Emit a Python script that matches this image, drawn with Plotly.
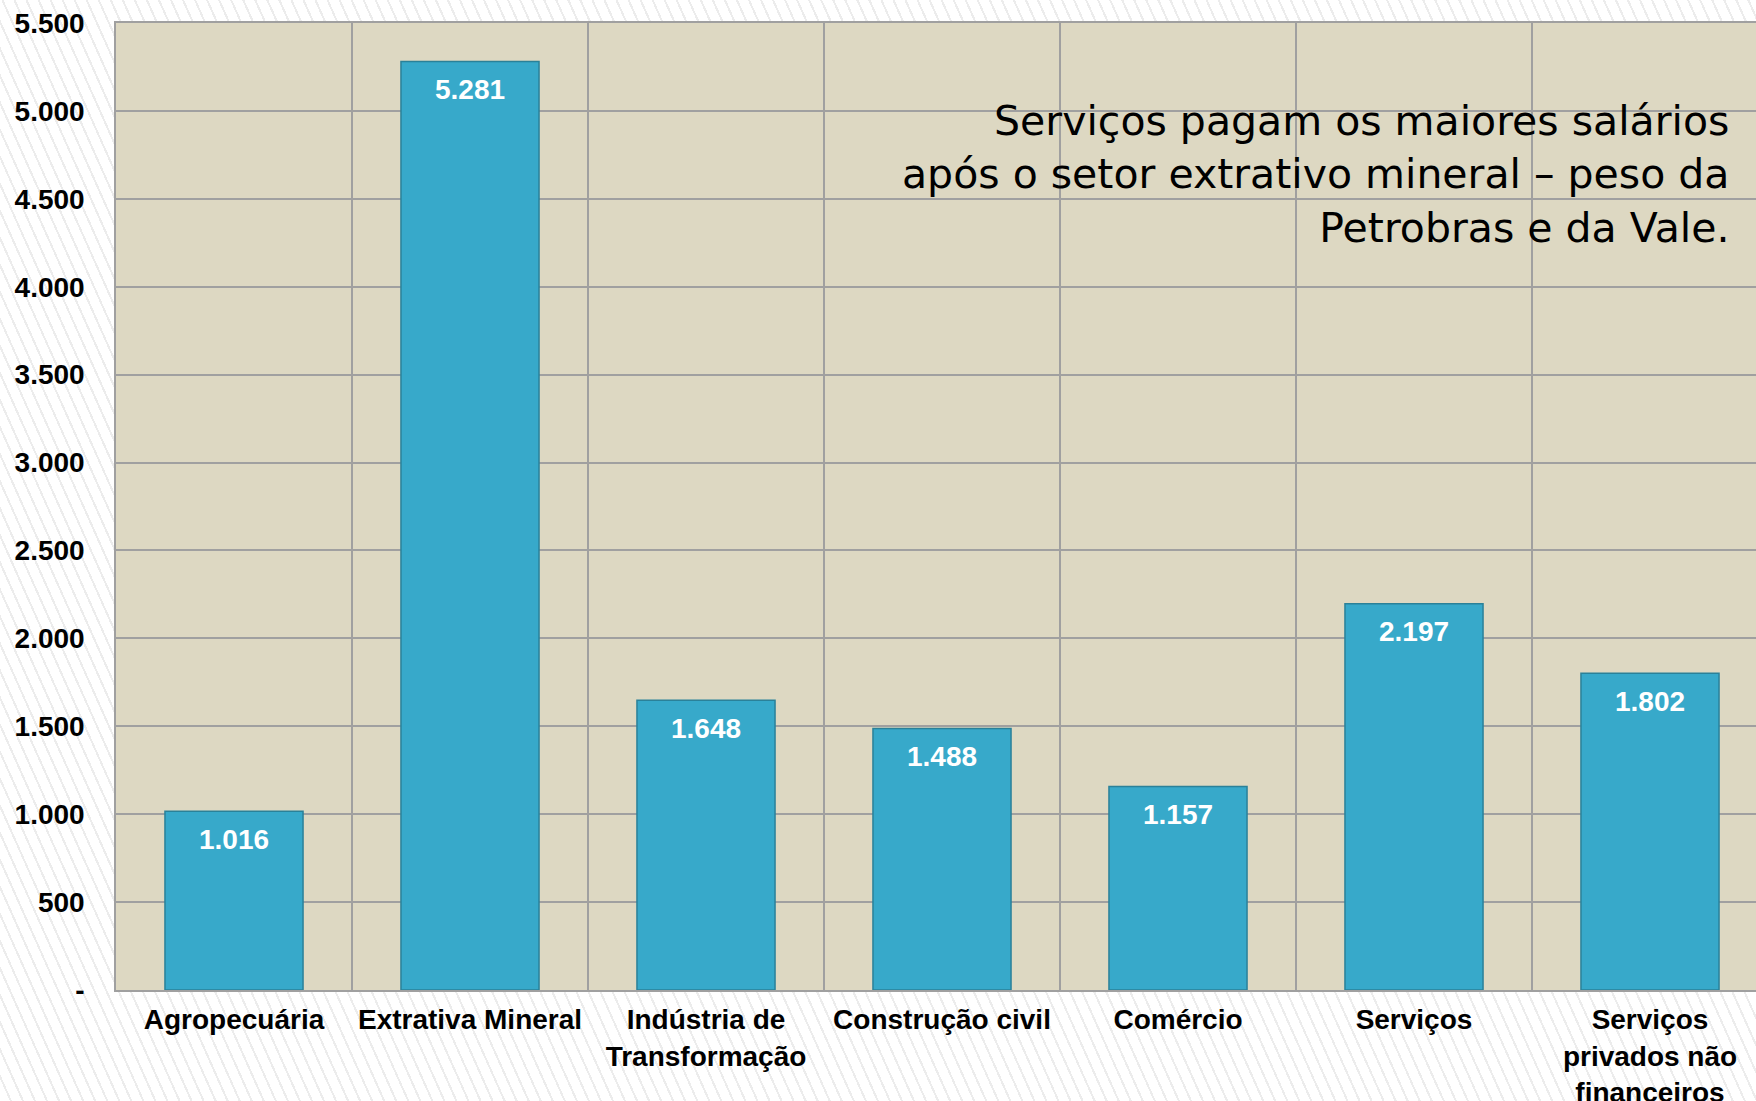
import plotly.graph_objects as go

categories = ["Agropecuária", "Extrativa Mineral", "Indústria de<br>Transformação",
              "Construção civil", "Comércio", "Serviços",
              "Serviços<br>privados não<br>financeiros"]
values = [1016, 5281, 1648, 1488, 1157, 2197, 1802]
y_tickvals = [0, 500, 1000, 1500, 2000, 2500, 3000, 3500, 4000, 4500, 5000, 5500]
y_ticktext = ["-", "500", "1.000", "1.500", "2.000", "2.500", "3.000", "3.500",
              "4.000", "4.500", "5.000", "5.500"]
note = "Serviços pagam os maiores salários<br>após o setor extrativo mineral – peso da<br>Petrobras e da Vale."

W, H = 1756, 1101
L, T, B = 116, 23, 111
cat_px = 236.0
plot_w = W - L
x_end = -0.5 + plot_w / cat_px
LAB = "Liberation Sans, Arial, sans-serif"

fig = go.Figure()
fig.add_trace(go.Bar(
    x=categories, y=values, width=0.585,
    marker=dict(color="#37A9CA", line=dict(color="#2A8199", width=1.5)),
    hoverinfo="skip",
))
fig.add_trace(go.Scatter(
    x=categories, y=values, mode="markers+text",
    marker=dict(size=25, opacity=0),
    texttemplate="%{y:,.0f}", textposition="bottom center",
    textfont=dict(family=LAB, size=28, color="white", weight="bold"),
    hoverinfo="skip",
))

fig.add_annotation(
    xref="paper", yref="paper", x=(1731 - L) / plot_w, y=1 - (95 - T) / (H - T - B),
    xanchor="right", yanchor="top", align="right", showarrow=False,
    text=note, font=dict(family="DejaVu Sans, Verdana, sans-serif", size=41, color="black"),
)

fig.update_layout(
    width=W, height=H, autosize=False,
    margin=dict(l=L, r=0, t=T, b=B, pad=0),
    paper_bgcolor="rgba(0,0,0,0)", plot_bgcolor="#DDD8C2",
    separators=",.",
    showlegend=False,
    font=dict(family=LAB, size=28, color="black"),
)
fig.update_xaxes(
    type="category", range=[-0.5, x_end], tickson="boundaries",
    showgrid=True, gridcolor="#A0A0A0", gridwidth=1.5,
    showline=True, linecolor="#A0A0A0", linewidth=1.5, mirror=True,
    ticks="", automargin=False, ticklabelstandoff=4,
    tickfont=dict(family=LAB, size=28, color="black", weight="bold"),
)
fig.update_yaxes(
    range=[0, 5500], tickvals=y_tickvals, ticktext=y_ticktext,
    showgrid=True, gridcolor="#A0A0A0", gridwidth=1.5, zeroline=False,
    showline=True, linecolor="#A0A0A0", linewidth=1.5, mirror=True,
    ticks="", automargin=False, ticklabelstandoff=24,
    tickfont=dict(family=LAB, size=28, color="black", weight="bold"),
)

post = ("document.body.style.margin='0';document.body.style.overflow='hidden';"
        "document.body.style.background='repeating-linear-gradient(66deg,#ffffff 0px,#ffffff 9px,#ececec 9px,#ececec 11px)';")
fig.write_html("out.html", post_script=post, config={"displayModeBar": False})
